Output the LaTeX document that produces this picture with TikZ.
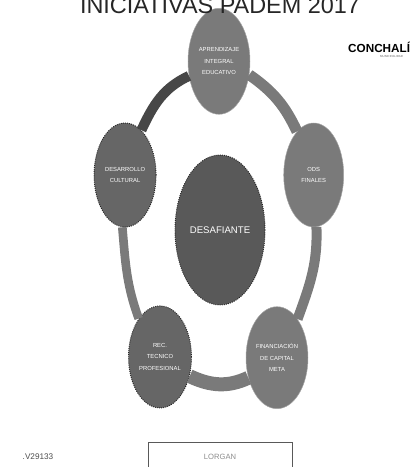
\documentclass[tikz,border=0pt]{standalone}
\usepackage{fontspec}
\setmainfont{Liberation Sans}
\usetikzlibrary{positioning, shapes.geometric}

\begin{document}
\begin{tikzpicture}[
    eje/.style={ellipse, draw=black!35, fill=black!52, text=white, inner sep=0pt, align=center, font=\fontsize{5}{10}\selectfont},
    ejedark/.style={eje, draw=black!85, densely dotted, thick, fill=black!60},
    anillo/.style={line width=3mm, draw=black!52},
    anillodark/.style={anillo, draw=black!72}
]
\clip (-6.6,6.9) rectangle (5.67,-7.11);
% Nodes
\node [ejedark, minimum width=2.7cm, minimum height=4.5cm, fill=black!65, font=\fontsize{8.2}{10}\selectfont] (desafiante) {DESAFIANTE};
\node [eje, minimum width=1.86cm, minimum height=3.18cm, above=1.2cm of desafiante, xshift=-0.03cm] (aprendizaje) {APRENDIZAJE\\INTEGRAL\\EDUCATIVO};
\node [eje, minimum width=1.8cm, minimum height=3.12cm, right=0.54cm of desafiante, yshift=1.65cm] (finales) {ODS\\FINALES};
\node [eje, minimum width=1.86cm, minimum height=3.06cm, below=0.03cm of desafiante, xshift=1.71cm] (capital) {FINANCIACIÓN\\DE CAPITAL\\META};
\node [ejedark, minimum width=1.89cm, minimum height=3.06cm, below=0cm of desafiante, xshift=-1.8cm] (tecnico) {REC.\\TECNICO\\PROFESIONAL};
\node [ejedark, minimum width=1.86cm, minimum height=3.12cm, left=0.54cm of desafiante, yshift=1.65cm] (cultural) {DESARROLLO\\CULTURAL};

% Arrows
\draw[anillo, line width=3.3mm] (aprendizaje.-24) to[out=-35, in=115] (finales.111);
\draw[anillo] (finales.-87) to[out=-88, in=70] (capital.62);
\draw[anillo, line width=4.2mm] (capital.215) to[out=-155, in=-25] (tecnico.-33);
\draw[anillo, line width=2.6mm] (tecnico.119) to[out=110, in=-85] (cultural.-93);
\draw[anillodark] (cultural.70) to[out=65, in=-155] (aprendizaje.206);

% Labels
\node [font=\fontsize{20}{22}\selectfont, text=black!85] (titulo) at (0,6.73) {INICIATIVAS PADEM 2017};
\node [font=\bfseries\fontsize{10}{11}\selectfont, anchor=west, inner sep=0pt] (logo) at (3.84,5.49) {CONCHALÍ};
\node [font=\fontsize{2.5}{3}\selectfont, text=black!60, anchor=west, inner sep=0pt] (logosub) at (4.8,5.22) {MUNICIPALIDAD};
\node [font=\fontsize{7}{8}\selectfont, text=black!70, inner sep=0pt] (codigo) at (-5.46,-6.81) {.V29133};
\node [rectangle, draw=black!65, minimum width=4.32cm, minimum height=0.9cm, font=\fontsize{6.5}{8}\selectfont, text=black!45, inner sep=0pt] (recuadro) at (0,-6.81) {LORGAN};
\end{tikzpicture}
\end{document}
